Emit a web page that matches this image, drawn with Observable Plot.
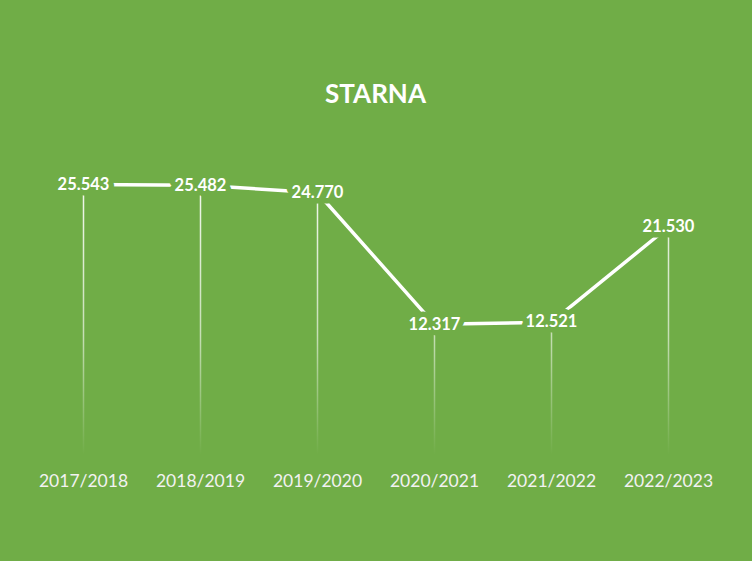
<!DOCTYPE html>
<html>
<head>
<meta charset="utf-8">
<script src="https://cdn.jsdelivr.net/npm/d3@7"></script>
<script src="https://cdn.jsdelivr.net/npm/@observablehq/plot@0.6"></script>
<style>
  html, body { margin: 0; padding: 0; background: #70AD47; }
  #chart { width: 752px; height: 561px; }
</style>
</head>
<body>
<div id="chart"></div>
<script>
const title = "STARNA";
const seasons = ["2017/2018", "2018/2019", "2019/2020", "2020/2021", "2021/2022", "2022/2023"];
const values = [25543, 25482, 24770, 12317, 12521, 21530];

const data = seasons.map((s, i) => ({season: s, value: values[i]}));
const fmt = v => v.toLocaleString("it-IT");
const bg = "#70AD47";

const plot = Plot.plot({
  width: 752,
  height: 561,
  marginLeft: 82,
  marginRight: 84,
  marginTop: 137,
  marginBottom: 107,
  style: {background: bg, fontFamily: "Lato, sans-serif", overflow: "visible"},
  x: {type: "point", domain: seasons, padding: 0, axis: null},
  y: {domain: [0, 30000], axis: null},
  marks: [
    Plot.ruleX(data, {x: "season", y1: 0, y2: "value", stroke: "url(#dropFade)", strokeWidth: 1.5}),
    Plot.line(data, {x: "season", y: "value", stroke: "white", strokeWidth: 3.5}),
    Plot.text(data, {x: "season", y: "value", text: d => fmt(d.value), fill: "white",
      fontSize: 16.5, fontWeight: "bold", stroke: bg, strokeWidth: 11, paintOrder: "stroke"}),
    Plot.text(seasons, {x: d => d, frameAnchor: "bottom", dy: 32, fill: "#f2f2f2", fontSize: 17.5}),
    Plot.text([title], {frameAnchor: "top", dy: -53, fill: "white", fontSize: 26, fontWeight: "bold",
      text: d => d, letterSpacing: "2.5px"})
  ]
});

const ns = "http://www.w3.org/2000/svg";
const defs = document.createElementNS(ns, "defs");
defs.innerHTML = `<linearGradient id="dropFade" gradientUnits="userSpaceOnUse" x1="0" y1="190" x2="0" y2="455">
  <stop offset="0" stop-color="white" stop-opacity="0.9"/>
  <stop offset="0.55" stop-color="white" stop-opacity="0.6"/>
  <stop offset="1" stop-color="white" stop-opacity="0"/>
</linearGradient>`;
plot.insertBefore(defs, plot.firstChild);
document.getElementById("chart").appendChild(plot);
</script>
</body>
</html>
